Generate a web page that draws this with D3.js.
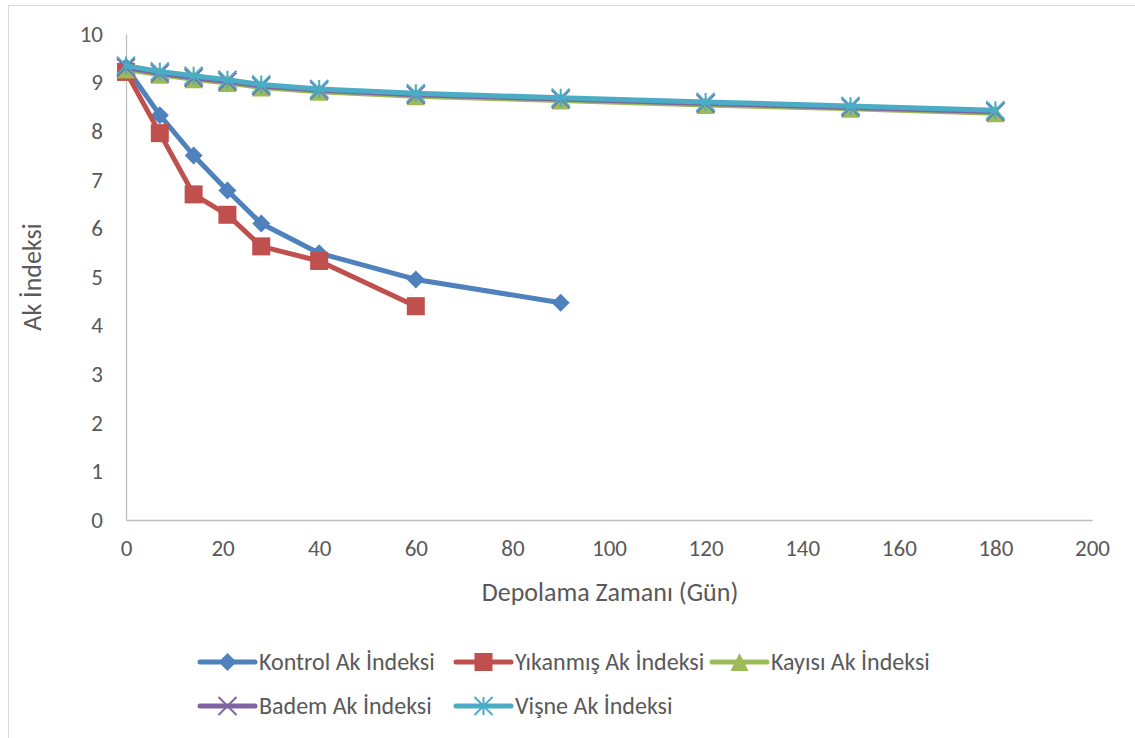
<!DOCTYPE html>
<html>
<head>
<meta charset="utf-8">
<script src="https://cdn.jsdelivr.net/npm/d3@7"></script>
<style>
  body { margin: 0; background: #fff; }
  text { font-family: Carlito, Calibri, Lato, sans-serif; fill: #595959; }
</style>
</head>
<body>
<div id="wrapper"></div>
<script>
// Data
const days = [0, 7, 14, 21, 28, 40, 60, 90, 120, 150, 180];
const kontrol = [9.32, 8.33, 7.50, 6.78, 6.10, 5.49, 4.95, 4.47];
const yikanmis = [9.22, 7.96, 6.70, 6.28, 5.63, 5.33, 4.40];
const kayisi = [9.27, 9.16, 9.07, 8.99, 8.90, 8.81, 8.72, 8.63, 8.54, 8.46, 8.37];
const badem = [9.31, 9.19, 9.10, 9.02, 8.93, 8.84, 8.75, 8.66, 8.57, 8.49, 8.40];
const visne = [9.35, 9.23, 9.14, 9.06, 8.96, 8.87, 8.78, 8.69, 8.60, 8.52, 8.43];
const seriesNames = ["Kontrol Ak İndeksi", "Yıkanmış Ak İndeksi", "Kayısı Ak İndeksi", "Badem Ak İndeksi", "Vişne Ak İndeksi"];
const seriesColors = ["#4F81BD", "#C0504D", "#9BBB59", "#8064A2", "#4BACC6"];
const seriesMarkers = ["diamond", "square", "triangle", "cross", "asterisk"];
const xTicks = [0, 20, 40, 60, 80, 100, 120, 140, 160, 180, 200];
const yTicks = [0, 1, 2, 3, 4, 5, 6, 7, 8, 9, 10];

const seriesValues = [kontrol, yikanmis, kayisi, badem, visne];
const series = seriesNames.map((name, i) => ({
    name,
    color: seriesColors[i],
    marker: seriesMarkers[i],
    points: seriesValues[i].map((v, j) => ({ x: days[j], y: v }))
}));

// Dimensions
const WIDTH = 1135;
const HEIGHT = 738;
const dimensions = {
    width: WIDTH,
    height: HEIGHT,
    margin: { top: 34, right: 43, bottom: 218, left: 126 }
};
dimensions.boundedWidth = dimensions.width - dimensions.margin.left - dimensions.margin.right;
dimensions.boundedHeight = dimensions.height - dimensions.margin.top - dimensions.margin.bottom;

const svg = d3.select("#wrapper")
    .append("svg")
    .attr("width", dimensions.width)
    .attr("height", dimensions.height);

// Chart border (only top and left are inside the picture)
svg.append("rect")
    .attr("x", 8.5).attr("y", 5.5)
    .attr("width", WIDTH + 20).attr("height", HEIGHT + 20)
    .attr("fill", "none")
    .attr("stroke", "#d9d9d9")
    .attr("stroke-width", 1);

const bounds = svg.append("g")
    .attr("transform", `translate(${dimensions.margin.left},${dimensions.margin.top})`);

// Scales
const xScale = d3.scaleLinear().domain([0, 200]).range([0, dimensions.boundedWidth]);
const yScale = d3.scaleLinear().domain([0, 10]).range([dimensions.boundedHeight, 0]);

// Axes
const xAxis = bounds.append("g")
    .attr("transform", `translate(0,${dimensions.boundedHeight})`)
    .call(d3.axisBottom(xScale).tickValues(xTicks).tickSize(0).tickPadding(20));
const yAxis = bounds.append("g")
    .call(d3.axisLeft(yScale).tickValues(yTicks).tickSize(0).tickPadding(23));

[xAxis, yAxis].forEach(ax => {
    ax.select(".domain").attr("stroke", "#bfbfbf").attr("stroke-width", 1.3);
    ax.selectAll("text").attr("font-size", 23).attr("fill", "#595959")
        .style("font-family", "Carlito, Calibri, Lato, sans-serif");
});

// Axis titles
svg.append("text")
    .attr("x", 610).attr("y", 601)
    .attr("text-anchor", "middle")
    .attr("font-size", 26)
    .text("Depolama Zamanı (Gün)");
svg.append("text")
    .attr("transform", "translate(41,277) rotate(-90)")
    .attr("text-anchor", "middle")
    .attr("font-size", 26)
    .text("Ak İndeksi");

// Markers
const MARKER = 18;
function drawMarker(sel, type, color) {
    const h = MARKER / 2;
    if (type === "diamond") {
        sel.append("path").attr("d", `M0,${-h}L${h},0L0,${h}L${-h},0Z`).attr("fill", color);
    } else if (type === "square") {
        sel.append("rect").attr("x", -h).attr("y", -h).attr("width", MARKER).attr("height", MARKER).attr("fill", color);
    } else if (type === "triangle") {
        sel.append("path").attr("d", `M0,${-h}L${h},${h}L${-h},${h}Z`).attr("fill", color);
    } else if (type === "cross") {
        sel.append("path").attr("d", `M${-h},${-h}L${h},${h}M${h},${-h}L${-h},${h}`)
            .attr("stroke", color).attr("stroke-width", 2);
    } else if (type === "asterisk") {
        sel.append("path").attr("d", `M${-h},${-h}L${h},${h}M${h},${-h}L${-h},${h}M0,${-h}L0,${h}`)
            .attr("stroke", color).attr("stroke-width", 2);
    }
}

// Lines
const lineGenerator = d3.line().x(d => xScale(d.x)).y(d => yScale(d.y));
series.forEach(s => {
    const g = bounds.append("g");
    g.append("path")
        .datum(s.points)
        .attr("d", lineGenerator)
        .attr("fill", "none")
        .attr("stroke", s.color)
        .attr("stroke-width", 5)
        .attr("stroke-linejoin", "round")
        .attr("stroke-linecap", "round");
    g.selectAll(".marker")
        .data(s.points)
        .join("g")
        .attr("class", "marker")
        .attr("transform", d => `translate(${xScale(d.x)},${yScale(d.y)})`)
        .each(function () { drawMarker(d3.select(this), s.marker, s.color); });
});

// Legend
const LEGEND = { left: 200, col: 256, rowY: [662, 706], sample: 55 };
series.forEach((s, i) => {
    const x = LEGEND.left + (i % 3) * LEGEND.col;
    const y = LEGEND.rowY[Math.floor(i / 3)];
    const g = svg.append("g").attr("transform", `translate(${x},${y})`);
    g.append("line")
        .attr("x1", 0).attr("x2", LEGEND.sample)
        .attr("stroke", s.color).attr("stroke-width", 5).attr("stroke-linecap", "round");
    const m = g.append("g").attr("transform", `translate(${LEGEND.sample / 2},0)`);
    drawMarker(m, s.marker, s.color);
    g.append("text")
        .attr("x", LEGEND.sample + 4)
        .attr("dy", "0.35em")
        .attr("font-size", 24)
        .text(s.name);
});
</script>
</body>
</html>
